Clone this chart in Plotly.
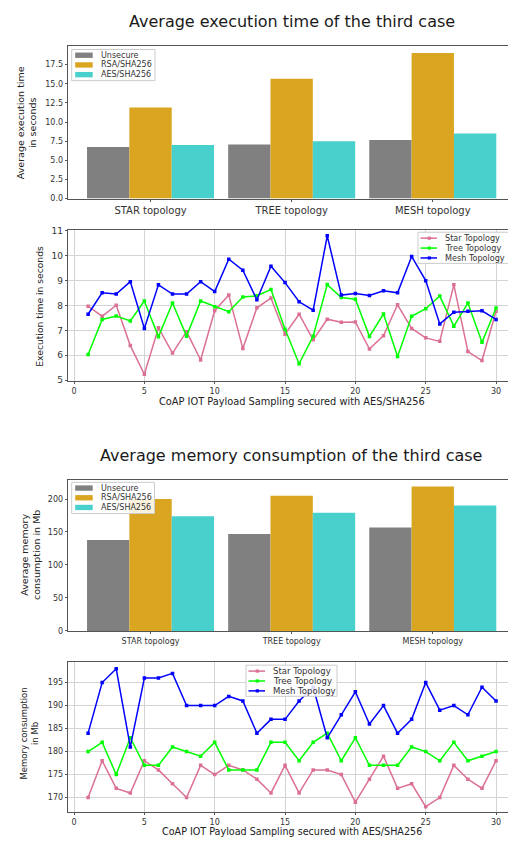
import plotly.graph_objects as go

# ---------------- data ----------------
topologies = ["STAR topology", "TREE topology", "MESH topology"]
series_names = ["Unsecure", "RSA/SHA256", "AES/SHA256"]

exec_unsecure = [6.75, 7.05, 7.65]
exec_rsa = [11.9, 15.65, 19.0]
exec_aes = [7.0, 7.5, 8.5]

mem_unsecure = [138, 147, 157]
mem_rsa = [200, 205, 219]
mem_aes = [174, 179, 190]

samples = list(range(1, 31))
line_names = ["Star Topology", "Tree Topology", "Mesh Topology"]

exec_star = [7.97, 7.57, 8.01, 6.39, 5.24, 7.11, 6.09, 6.95, 5.81, 7.79,
             8.42, 6.27, 7.91, 8.30, 6.85, 7.65, 6.62, 7.45, 7.33, 7.34,
             6.25, 6.79, 8.03, 7.08, 6.70, 6.56, 8.83, 6.15, 5.79, 7.77]
exec_tree = [6.03, 7.44, 7.58, 7.38, 8.18, 6.75, 8.10, 6.77, 8.18, 7.95,
             7.75, 8.34, 8.39, 8.64, 7.05, 5.66, 6.77, 8.84, 8.32, 8.25,
             6.76, 7.66, 5.95, 7.57, 7.87, 8.38, 7.17, 8.10, 6.52, 7.90]
exec_mesh = [7.65, 8.51, 8.46, 8.96, 7.08, 8.83, 8.46, 8.46, 8.96, 8.56,
             9.86, 9.42, 8.23, 9.58, 8.92, 8.15, 7.81, 10.80, 8.42, 8.48,
             8.40, 8.59, 8.51, 9.97, 9.00, 7.26, 7.73, 7.77, 7.79, 7.44]

mem_star = [170, 178, 172, 171, 178, 176, 173, 170, 177, 175,
            177, 176, 174, 171, 177, 171, 176, 176, 175, 169,
            174, 179, 172, 173, 168, 170, 177, 174, 172, 178]
mem_tree = [180, 182, 175, 183, 177, 177, 181, 180, 179, 182,
            176, 176, 176, 182, 182, 178, 182, 184, 178, 183,
            177, 177, 177, 181, 180, 178, 182, 178, 179, 180]
mem_mesh = [184, 195, 198, 181, 196, 196, 197, 190, 190, 190,
            192, 191, 184, 187, 187, 191, 194, 183, 188, 193,
            186, 190, 184, 187, 195, 189, 190, 188, 194, 191]

bar_colors = ["#808080", "#DAA520", "#48D1CC"]
line_colors = ["#DB7093", "#00FF00", "#0000FF"]

W, H = 508, 842
FONT = "DejaVu Sans"


def px_x(p):
    return p / W


def px_y(p):
    return 1 - p / H


fig = go.Figure()

# ---------- bar chart 1 ----------
for name, vals, col in zip(series_names, [exec_unsecure, exec_rsa, exec_aes], bar_colors):
    fig.add_trace(go.Bar(x=topologies, y=vals, name=name, marker=dict(color=col, line=dict(width=0)),
                         xaxis="x", yaxis="y", offsetgroup=name, showlegend=False))

# ---------- line chart 1 ----------
for name, vals, col in zip(line_names, [exec_star, exec_tree, exec_mesh], line_colors):
    fig.add_trace(go.Scatter(x=samples, y=vals, name=name, mode="lines+markers",
                             line=dict(color=col, width=1.5),
                             marker=dict(color=col, size=3.5, symbol="square"),
                             xaxis="x2", yaxis="y2", showlegend=False))

# ---------- bar chart 2 ----------
for name, vals, col in zip(series_names, [mem_unsecure, mem_rsa, mem_aes], bar_colors):
    fig.add_trace(go.Bar(x=topologies, y=vals, name=name, marker=dict(color=col, line=dict(width=0)),
                         xaxis="x3", yaxis="y3", offsetgroup=name, showlegend=False))

# ---------- line chart 2 ----------
for name, vals, col in zip(line_names, [mem_star, mem_tree, mem_mesh], line_colors):
    fig.add_trace(go.Scatter(x=samples, y=vals, name=name, mode="lines+markers",
                             line=dict(color=col, width=1.5),
                             marker=dict(color=col, size=3.5, symbol="square"),
                             xaxis="x4", yaxis="y4", showlegend=False))

axis_line = dict(showline=True, linecolor="#555555", linewidth=1, ticks="outside",
                 ticklen=2, tickcolor="#555555", zeroline=False)


def tick_font(s):
    return dict(family=FONT, size=s, color="#333333")


fig.update_layout(
    width=W, height=H,
    margin=dict(l=0, r=0, t=0, b=0),
    paper_bgcolor="white", plot_bgcolor="white",
    font=dict(family=FONT, color="#222222"),
    barmode="group", bargap=0.1, bargroupgap=0,
    showlegend=False,
    # bar chart 1
    xaxis=dict(domain=[px_x(67.7), 1], anchor="y", type="category", range=[-0.587, 2.533],
               mirror=True, showgrid=False, tickfont=tick_font(10), **axis_line),
    yaxis=dict(domain=[px_y(196.7), px_y(42.3)], anchor="x", range=[0, 19.95],
               tickvals=[0, 2.5, 5, 7.5, 10, 12.5, 15, 17.5],
               ticktext=["0.0", "2.5", "5.0", "7.5", "10.0", "12.5", "15.0", "17.5"],
               showgrid=False, tickfont=tick_font(8), **axis_line),
    # line chart 1
    xaxis2=dict(domain=[px_x(67.7), 1], anchor="y2", range=[-0.45, 30.85],
                tickvals=[0, 5, 10, 15, 20, 25, 30], mirror=True,
                showgrid=True, gridcolor="#d4d4d4", gridwidth=1, tickfont=tick_font(8), **axis_line),
    yaxis2=dict(domain=[px_y(381), px_y(228.3)], anchor="x2", range=[4.97, 11.04],
                tickvals=[5, 6, 7, 8, 9, 10, 11],
                showgrid=True, gridcolor="#d4d4d4", gridwidth=1, tickfont=tick_font(9), **axis_line),
    # bar chart 2
    xaxis3=dict(domain=[px_x(67.7), 1], anchor="y3", type="category", range=[-0.587, 2.533],
                mirror=True, showgrid=False, tickfont=tick_font(8), **axis_line),
    yaxis3=dict(domain=[px_y(633.7), px_y(480.7)], anchor="x3", range=[0, 229.5],
                tickvals=[0, 50, 100, 150, 200],
                showgrid=False, tickfont=tick_font(8), **axis_line),
    # line chart 2
    xaxis4=dict(domain=[px_x(67.7), 1], anchor="y4", range=[-0.45, 30.85],
                tickvals=[0, 5, 10, 15, 20, 25, 30], mirror=True,
                showgrid=True, gridcolor="#d4d4d4", gridwidth=1, tickfont=tick_font(8), **axis_line),
    yaxis4=dict(domain=[px_y(817), px_y(665)], anchor="x4", range=[166.8, 199.5],
                tickvals=[170, 175, 180, 185, 190, 195],
                showgrid=True, gridcolor="#d4d4d4", gridwidth=1, tickfont=tick_font(8), **axis_line),
)

shapes = []
annotations = []


def ann(text, x, y, size, color="#222222", angle=0, xanchor="center"):
    annotations.append(dict(text=text, x=px_x(x), y=px_y(y), xref="paper", yref="paper",
                            showarrow=False, xanchor=xanchor, yanchor="middle", textangle=angle,
                            font=dict(family=FONT, size=size, color=color)))


def box(x0, y0, x1, y1, fill, line_color=None, lw=0):
    shapes.append(dict(type="rect", xref="paper", yref="paper",
                       x0=px_x(x0), x1=px_x(x1), y0=px_y(y1), y1=px_y(y0),
                       fillcolor=fill, line=dict(color=line_color or fill, width=lw), layer="above"))


def bar_legend(x0, y0, x1, names, colors):
    box(x0, y0, x1, y0 + 31.5, "rgba(255,255,255,0.85)", "#cccccc", 1)
    for i, (n, c) in enumerate(zip(names, colors)):
        cy = y0 + 5.8 + 9.8 * i
        box(x0 + 3.5, cy - 2.7, x0 + 21, cy + 2.7, c)
        ann(n, x0 + 27, cy, 8, "#333333", xanchor="left")


def line_legend(x0, y0, x1, names, colors, fsize):
    box(x0, y0, x1, y0 + 31.5, "rgba(255,255,255,0.85)", "#cccccc", 1)
    for i, (n, c) in enumerate(zip(names, colors)):
        cy = y0 + 6 + 10 * i
        shapes.append(dict(type="line", xref="paper", yref="paper",
                           x0=px_x(x0 + 2.5), x1=px_x(x0 + 19), y0=px_y(cy), y1=px_y(cy),
                           line=dict(color=c, width=1.5), layer="above"))
        box(x0 + 9.7, cy - 1.6, x0 + 12.9, cy + 1.6, c)
        ann(n, x0 + 25, cy, fsize, "#333333", xanchor="left")


bar_legend(71.7, 46, 155, series_names, bar_colors)
bar_legend(71.7, 483.5, 154.5, series_names, bar_colors)
line_legend(418, 230.7, 512, line_names, line_colors, 8.1)
line_legend(246, 668.3, 337, line_names, line_colors, 8.5)

ann("Average execution time of the third case", 291.7, 17.3, 16, "#1a1a1a")
ann("Average memory consumption of the third case", 291, 456, 16, "#1a1a1a")
ann("Average execution time<br>in seconds", 26.5, 120, 9.5, angle=-90)
ann("Execution time in seconds", 40, 306, 9.2, angle=-90)
ann("Average memory<br>consumption in Mb", 30, 557, 9.5, angle=-90)
ann("Memory consumption<br>in Mb", 29.5, 738, 8.5, angle=-90)
ann("CoAP IOT Payload Sampling secured with AES/SHA256", 291.7, 402, 9.8)
ann("CoAP IOT Payload Sampling secured with AES/SHA256", 291.7, 836.3, 9.6)

fig.update_layout(shapes=shapes, annotations=annotations)

fig.write_html("out.html",
               config={"displayModeBar": False},
               post_script="document.body.style.margin='0';document.body.style.overflow='hidden';")
